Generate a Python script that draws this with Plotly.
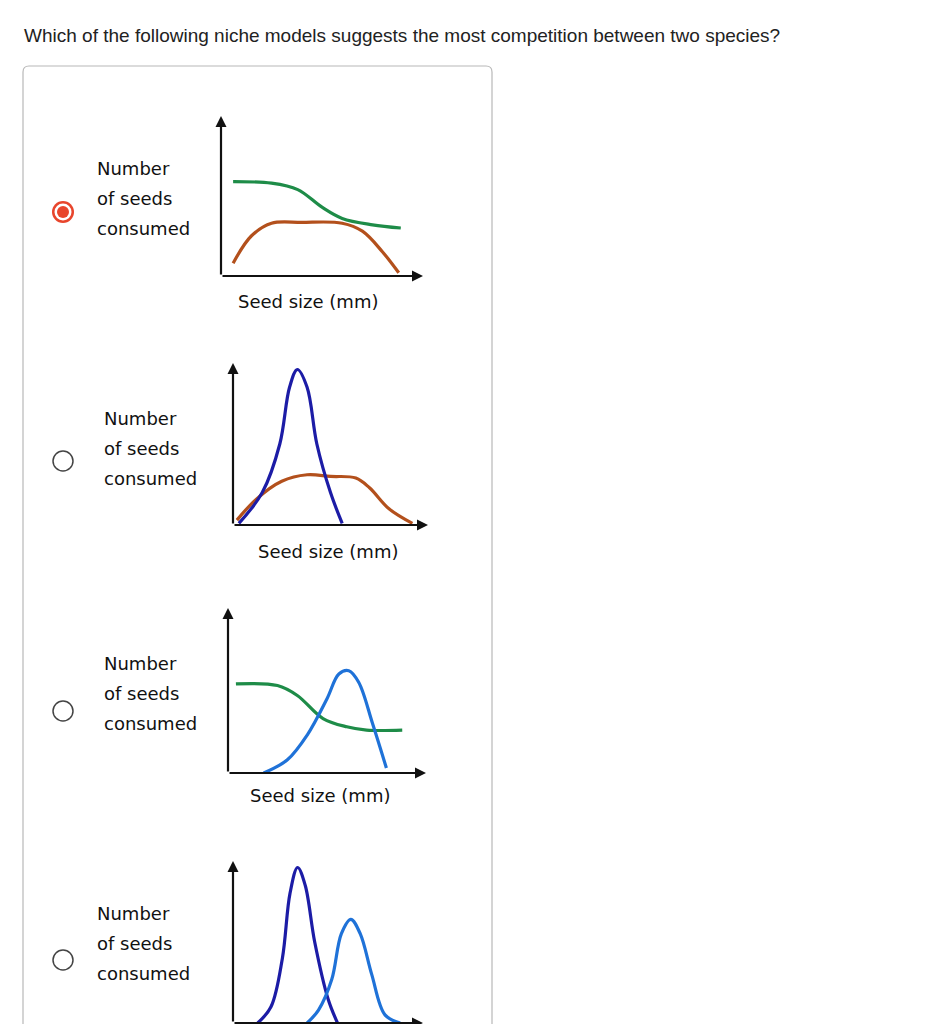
import plotly.graph_objects as go

W, H = 935, 1024
title = "Which of the following niche models suggests the most competition between two species?"
ylabel_lines = ["Number", "of seeds", "consumed"]
xlabel = "Seed size (mm)"

GREEN, BROWN, DBLUE, LBLUE = "#1e8c48", "#b3501c", "#1c1ca6", "#1f72d8"

# curves per panel in local units (0-10)
p1_green_x = [0.6, 2.5, 3.8, 5.0, 6.0, 7.5, 8.9]
p1_green_y = [5.9, 5.8, 5.4, 4.3, 3.6, 3.2, 3.0]
p1_brown_x = [0.6, 1.5, 2.5, 4.0, 6.0, 7.0, 8.0, 8.8]
p1_brown_y = [0.8, 2.5, 3.3, 3.35, 3.3, 2.8, 1.5, 0.2]
p2_dblue_x = [0.3, 1.5, 2.4, 2.9, 3.3, 3.8, 4.3, 5.0, 5.6]
p2_dblue_y = [0.1, 2.0, 5.0, 8.5, 9.6, 8.5, 5.0, 2.0, 0.1]
p2_brown_x = [0.2, 1.2, 2.5, 3.8, 5.0, 6.3, 7.0, 8.0, 9.2]
p2_brown_y = [0.3, 1.6, 2.7, 3.1, 3.0, 2.9, 2.3, 1.0, 0.1]
p3_green_x = [0.4, 2.5, 3.5, 4.8, 6.0, 7.0, 8.8]
p3_green_y = [5.4, 5.3, 4.7, 3.3, 2.8, 2.6, 2.6]
p3_lblue_x = [1.8, 3.0, 4.0, 5.0, 5.6, 6.1, 6.6, 7.3, 8.0]
p3_lblue_y = [0.0, 0.8, 2.3, 4.5, 6.0, 6.2, 5.5, 3.0, 0.3]
p4_dblue_x = [1.3, 2.0, 2.6, 3.0, 3.4, 3.8, 4.3, 5.0, 5.5]
p4_dblue_y = [0.0, 1.0, 4.0, 8.0, 9.6, 8.5, 5.0, 1.5, 0.0]
p4_lblue_x = [3.9, 4.5, 5.2, 5.7, 6.2, 6.7, 7.3, 8.0, 8.8]
p4_lblue_y = [0.0, 0.8, 2.7, 5.5, 6.4, 5.5, 3.0, 0.5, 0.0]

panels = [
    dict(ox=213, oy=268, ex=415, ty=108, tx=87, tly=160, ry=204, xlx=300, xly=293,
         curves=[(p1_green_x, p1_green_y, GREEN), (p1_brown_x, p1_brown_y, BROWN)], sel=True),
    dict(ox=225, oy=517, ex=420, ty=355, tx=94, tly=410, ry=453, xlx=320, xly=543,
         curves=[(p2_brown_x, p2_brown_y, BROWN), (p2_dblue_x, p2_dblue_y, DBLUE)], sel=False),
    dict(ox=220, oy=765, ex=418, ty=600, tx=94, tly=655, ry=703, xlx=312, xly=787,
         curves=[(p3_green_x, p3_green_y, GREEN), (p3_lblue_x, p3_lblue_y, LBLUE)], sel=False),
    dict(ox=225, oy=1015, ex=415, ty=853, tx=87, tly=905, ry=952, xlx=310, xly=1040,
         curves=[(p4_dblue_x, p4_dblue_y, DBLUE), (p4_lblue_x, p4_lblue_y, LBLUE)], sel=False),
]

px = lambda x: x / W
py = lambda y: 1 - y / H

fig = go.Figure()
shapes, annos = [], []
layout = {}
for i, p in enumerate(panels, start=1):
    xa, ya = f"xaxis{i}", f"yaxis{i}"
    layout[xa] = dict(domain=[px(p["ox"]), px(p["ex"])], range=[0, 10], visible=False, anchor=f"y{i}")
    layout[ya] = dict(domain=[max(0, py(p["oy"])), py(p["ty"])], range=[0, 10], visible=False, anchor=f"x{i}")
    for cx, cy, col in p["curves"]:
        fig.add_trace(go.Scatter(x=cx, y=cy, mode="lines", line=dict(color=col, width=3.2, shape="spline"),
                                 xaxis=f"x{i}", yaxis=f"y{i}", showlegend=False, hoverinfo="skip"))
    annos.append(dict(x=px(p["ox"]), y=py(p["ty"]), ax=0, ay=p["oy"] - p["ty"], xref="paper", yref="paper",
                      showarrow=True, arrowhead=2, arrowwidth=2.2, arrowsize=1, arrowcolor="#111", text=""))
    annos.append(dict(x=px(p["ex"]), y=py(p["oy"]), ax=-(p["ex"] - p["ox"]), ay=0, xref="paper", yref="paper",
                      showarrow=True, arrowhead=2, arrowwidth=2.2, arrowsize=1, arrowcolor="#111", text=""))
    for k, line in enumerate(ylabel_lines):
        annos.append(dict(x=px(p["tx"]), y=py(p["tly"] + 30 * k), xref="paper", yref="paper", text=line,
                          showarrow=False, xanchor="left", yanchor="middle",
                          font=dict(family="DejaVu Sans", size=18, color="#111")))
    if p["xly"] < H:
        annos.append(dict(x=px(p["xlx"]), y=py(p["xly"]), xref="paper", yref="paper", text=xlabel,
                          showarrow=False, xanchor="center", yanchor="middle",
                          font=dict(family="DejaVu Sans", size=18, color="#111")))
    cx0, cy0 = 55, p["ry"]
    if p["sel"]:
        for rr, fc in [(11, "#e8452c"), (8.5, "white"), (6, "#e8452c")]:
            shapes.append(dict(type="circle", xref="paper", yref="paper", x0=px(cx0 - rr), x1=px(cx0 + rr),
                               y0=py(cy0 + rr), y1=py(cy0 - rr), fillcolor=fc, line=dict(width=0)))
    else:
        shapes.append(dict(type="circle", xref="paper", yref="paper", x0=px(cx0 - 10), x1=px(cx0 + 10),
                           y0=py(cy0 + 10), y1=py(cy0 - 10), fillcolor="white", line=dict(color="#444", width=1.5)))

r = 6
shapes.insert(0, dict(type="path", xref="paper", yref="paper",
    path=f"M {px(15)},{py(58+r)} Q {px(15)},{py(58)} {px(15+r)},{py(58)} L {px(484-r)},{py(58)} "
         f"Q {px(484)},{py(58)} {px(484)},{py(58+r)} L {px(484)},{py(1040)} L {px(15)},{py(1040)} Z",
    line=dict(color="#b8b8b8", width=1.2), fillcolor="white", layer="below"))

annos.append(dict(x=px(14), y=py(27), xref="paper", yref="paper", text=title, showarrow=False,
                  xanchor="left", yanchor="middle", font=dict(family="Liberation Sans", size=19, color="#222")))

fig.update_layout(width=W, height=H, margin=dict(l=0, r=0, t=0, b=0), paper_bgcolor="white",
                  plot_bgcolor="rgba(0,0,0,0)", shapes=shapes, annotations=annos, **layout)
fig.write_html("out.html")
